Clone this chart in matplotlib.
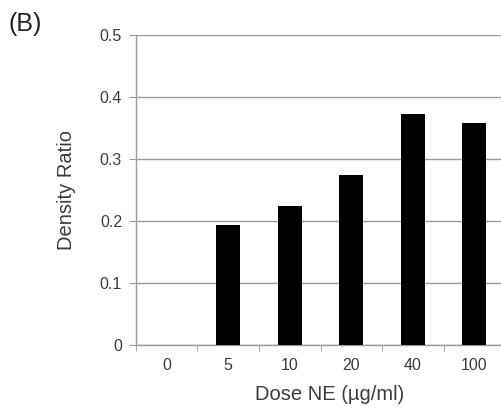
import numpy as np
import matplotlib
matplotlib.use("Agg")
import matplotlib.pyplot as plt

plt.rcParams["font.family"] = ["Liberation Sans", "DejaVu Sans"]

doses = ["0", "5", "10", "20", "40", "100"]
ratio = [0.0, 0.193, 0.224, 0.274, 0.373, 0.358]
yticks = [0, 0.1, 0.2, 0.3, 0.4, 0.5]
ytick_labels = ["0", "0.1", "0.2", "0.3", "0.4", "0.5"]

GRID = "#9a9a9a"
TXT = "#3c3c3c"

fig = plt.figure(figsize=(5.02, 4.09), dpi=100)
ax = fig.add_axes([136 / 502, 1 - 345 / 409, 369 / 502, 310 / 409])

x = np.arange(len(doses))
ax.bar(x, ratio, width=0.39, color="black", zorder=3)

ax.set_xlim(-0.5, len(doses) - 0.5)
ax.set_ylim(0, 0.5)
ax.set_yticks(yticks)
ax.set_yticklabels(ytick_labels)
ax.yaxis.grid(True, color=GRID, lw=1.0)
ax.set_axisbelow(True)

# category labels centred, tick marks at the category boundaries
ax.set_xticks(x)
ax.set_xticklabels(doses)
ax.set_xticks(np.arange(len(doses) + 1) - 0.5, minor=True)
ax.tick_params(axis="x", which="major", length=0, pad=9, labelsize=11.5, labelcolor=TXT)
ax.tick_params(axis="x", which="minor", length=4, color=GRID, direction="out")
ax.tick_params(axis="y", length=5, color=GRID, pad=5, labelsize=11.5, labelcolor=TXT)

for s in ["top", "right"]:
    ax.spines[s].set_visible(False)
for s in ["left", "bottom"]:
    ax.spines[s].set_color(GRID)
    ax.spines[s].set_linewidth(1.0)

ax.set_ylabel("Density Ratio", fontsize=14.5, color=TXT, labelpad=17)
ax.set_xlabel("Dose NE (µg/ml)", fontsize=14.5, color=TXT)
ax.xaxis.set_label_coords(0.526, -0.128)

fig.text(8 / 502, 1 - 24 / 409, "(B)", fontsize=18, color="#222222", va="center", ha="left")

fig.savefig("out.png", dpi=100)
